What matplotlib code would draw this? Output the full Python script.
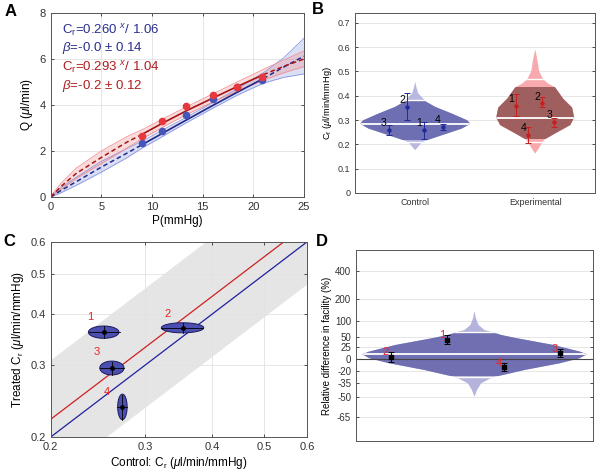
import numpy as np
import matplotlib
matplotlib.use("Agg")
import matplotlib.pyplot as plt
from matplotlib.patches import Polygon, Rectangle
from matplotlib.ticker import NullLocator

plt.rcParams["font.family"] = ["Liberation Sans", "DejaVu Sans"]
plt.rcParams["mathtext.fontset"] = "custom"
plt.rcParams["mathtext.rm"] = "Liberation Sans"
plt.rcParams["mathtext.it"] = "Liberation Sans:italic"

# ---- A: 流量-压力 ----
P_meas = [9, 11, 13.4, 16, 18.4, 20.9]
Q_blue = [2.33, 2.88, 3.57, 4.25, 4.77, 5.09]
Q_red = [2.65, 3.3, 3.97, 4.42, 4.8, 5.2]

P_fit = [0, 1, 2.5, 5, 7.5, 9, 11, 13.4, 16, 18.4, 21, 23, 25]
fit_blue = [0, 0.28, 0.66, 1.3, 1.9, 2.27, 2.76, 3.35, 3.98, 4.55, 5.15, 5.65, 6.12]
fit_red = [0, 0.45, 1.02, 1.72, 2.38, 2.72, 3.2, 3.75, 4.3, 4.8, 5.32, 5.68, 6.0]
blue_hi = [0.05, 0.4, 0.85, 1.55, 2.1, 2.42, 2.9, 3.47, 4.1, 4.7, 5.4, 6.05, 6.9]
blue_lo = [0, 0.18, 0.5, 1.08, 1.7, 2.12, 2.62, 3.23, 3.86, 4.42, 4.95, 5.2, 5.35]
red_hi = [0.05, 0.58, 1.25, 2.0, 2.62, 2.92, 3.38, 3.92, 4.48, 5.0, 5.55, 5.95, 6.35]
red_lo = [0, 0.32, 0.8, 1.45, 2.12, 2.52, 3.02, 3.58, 4.13, 4.6, 5.08, 5.4, 5.67]

# ---- B: 小提琴图 ----
groups = ["Control", "Experimental"]
ctrl_lvl = [0.176, 0.19, 0.205, 0.213, 0.22, 0.238, 0.265, 0.285, 0.299, 0.326, 0.354, 0.375, 0.384, 0.41, 0.435, 0.457]
ctrl_hw = [0, .025, .05, .075, .117, .225, .39, .46, .433, .308, .167, .092, .075, .025, .01, 0]
exp_lvl = [0.162, 0.18, 0.2, 0.212, 0.219, 0.245, 0.279, 0.31, 0.351, 0.388, 0.434, 0.45, 0.467, 0.5, 0.55, 0.591]
exp_hw = [0, .025, .05, .067, .075, .167, .292, .325, .308, .233, .167, .108, .067, .033, .017, 0]
ctrl_med, exp_med = 0.284, 0.31
ctrl_white = [0.211, 0.384]
exp_white = [0.211, 0.467]
ctrl_dark = [0.216, 0.378]
exp_dark = [0.22, 0.434]

ctrl_x = [1.07, 0.93, 0.778, 1.228]
ctrl_y = [0.258, 0.354, 0.261, 0.272]
ctrl_top = [0.29, 0.412, 0.279, 0.283]
ctrl_bot = [0.22, 0.302, 0.237, 0.261]
exp_x = [1.839, 2.056, 2.16, 1.944]
exp_y = [0.357, 0.368, 0.292, 0.237]
exp_top = [0.406, 0.393, 0.309, 0.272]
exp_bot = [0.317, 0.353, 0.270, 0.206]
ids = ["1", "2", "3", "4"]

# ---- C: 对照 vs 处理 ----
c_ctrl = [0.251, 0.352, 0.260, 0.272]
c_treat = [0.361, 0.370, 0.295, 0.237]
c_ctrl_lo = [0.236, 0.321, 0.247, 0.266]
c_ctrl_hi = [0.269, 0.385, 0.274, 0.277]
c_treat_lo = [0.349, 0.360, 0.283, 0.220]
c_treat_hi = [0.374, 0.381, 0.306, 0.254]
c_lab_xy = [(0.237, 0.393), (0.330, 0.400), (0.244, 0.322), (0.254, 0.257)]
red_ratio = 1.105
band_factor = 1.4

# ---- D: 相对差异 ----
d_lvl = [-49.6, -43, -35.6, -28, -25, -17.8, -7.1, 1.8, 9.6, 14.9, 30, 47, 56, 64, 71, 87.4, 112, 142.3]
d_hw = [0, .011, .028, .077, .12, .211, .359, .443, .474, .446, .333, .179, .113, .077, .042, .017, .006, 0]
d_med = 9.6
d_white = [-28, 64]
d_dark = [-27, 62]
d_x = [0.884, 0.648, 1.361, 1.123]
d_y = [43, 4.9, 12.9, -13.6]
d_top = [56, 15, 20.7, -6.6]
d_bot = [32, -4.3, 4.9, -19.3]
d_ticks = [-65, -50, -35, -20, 0, 25, 50, 100, 200, 400]

blue_dk = "#1f2a8a"
red_dk = "#a51515"
spine_c = "#555555"
grid_c = "#e2e2e2"


def style(ax, fs):
    for s in ax.spines.values():
        s.set_color(spine_c)
        s.set_linewidth(0.7)
    ax.tick_params(direction="in", top=True, right=True, length=2.5, width=0.6,
                   labelsize=fs, colors="#333333")
    ax.grid(True, color=grid_c, lw=0.6)
    ax.set_axisbelow(True)


def violin(ax, xc, lvl, hw, light, dark, dark_rng, whites, med):
    lvl = np.array(lvl)
    hw = np.array(hw)
    xs = np.concatenate([xc - hw, (xc + hw)[::-1]])
    ys = np.concatenate([lvl, lvl[::-1]])
    poly = Polygon(np.column_stack([xs, ys]), closed=True, fc=light, ec="none", zorder=1)
    ax.add_patch(poly)
    inner = Polygon(np.column_stack([xs, ys]), closed=True, fc=dark, ec="none", zorder=1.5)
    ax.add_patch(inner)
    inner.set_clip_path(Rectangle((xc - 1, dark_rng[0]), 2, dark_rng[1] - dark_rng[0],
                                  transform=ax.transData))
    for w in whites + [med]:
        ln, = ax.plot([xc - 1, xc + 1], [w, w], color="white", lw=1.3 if w == med else 1.0, zorder=2)
        ln.set_clip_path(poly)


fig = plt.figure(figsize=(6, 4.73), dpi=100)

# ===== A =====
axA = fig.add_axes([0.0845, 0.5835, 0.422, 0.389])
style(axA, 8)
P_fit = np.array(P_fit)
axA.fill_between(P_fit, blue_lo, blue_hi, color="#8a96e0", alpha=0.3, lw=0)
axA.fill_between(P_fit, red_lo, red_hi, color="#f08a8a", alpha=0.3, lw=0)
for arr, c in [(blue_lo, "#8a96e0"), (blue_hi, "#8a96e0"), (red_lo, "#f09090"), (red_hi, "#f09090")]:
    axA.plot(P_fit, arr, color=c, lw=0.6)
inside = (P_fit >= 9) & (P_fit <= 21)
for fit, c in [(fit_blue, blue_dk), (fit_red, red_dk)]:
    fit = np.array(fit)
    axA.plot(P_fit[P_fit <= 9], fit[P_fit <= 9], color=c, ls=(0, (3, 2)), lw=1.1)
    axA.plot(P_fit[P_fit >= 21], fit[P_fit >= 21], color=c, ls=(0, (3, 2)), lw=1.1)
    axA.plot(P_fit[inside], fit[inside], color=c, lw=1.2)
axA.plot(P_meas, Q_blue, "o", color="#4656b8", ms=4.5, zorder=4)
axA.plot(P_meas, Q_red, "o", color="#e8383d", ms=4.5, zorder=4)
axA.set_xlim(0, 25)
axA.set_ylim(0, 8)
axA.set_xticks([0, 5, 10, 15, 20, 25])
axA.set_yticks([0, 2, 4, 6, 8])
axA.set_xlabel("P(mmHg)", fontsize=8.5, labelpad=2)
axA.set_ylabel(r"Q ($\mu$l/min)", fontsize=8.5, labelpad=3)
tA = dict(transform=axA.transAxes, fontsize=9.5, va="center", ha="left")
axA.text(0.045, 0.905, r"C$_\mathrm{r}$=0.260 $^x$/ 1.06", color="#2a2f8f", **tA)
axA.text(0.045, 0.81, r"$\beta$=-0.0 $\pm$ 0.14", color="#2a2f8f", **tA)
axA.text(0.045, 0.70, r"C$_\mathrm{r}$=0.293 $^x$/ 1.04", color="#b01c1c", **tA)
axA.text(0.045, 0.605, r"$\beta$=-0.2 $\pm$ 0.12", color="#b01c1c", **tA)

# ===== B =====
axB = fig.add_axes([0.592, 0.592, 0.4, 0.3805])
style(axB, 6.5)
axB.grid(False)
axB.yaxis.grid(True, color=grid_c, lw=0.6)
violin(axB, 1, ctrl_lvl, ctrl_hw, "#b9b9e0", "#6e6eb2", ctrl_dark, ctrl_white, ctrl_med)
violin(axB, 2, exp_lvl, exp_hw, "#f7a9ad", "#a05f5f", exp_dark, exp_white, exp_med)
yerr_c = [np.array(ctrl_y) - np.array(ctrl_bot), np.array(ctrl_top) - np.array(ctrl_y)]
yerr_e = [np.array(exp_y) - np.array(exp_bot), np.array(exp_top) - np.array(exp_y)]
axB.errorbar(ctrl_x, ctrl_y, yerr=yerr_c, fmt="o", color="#1f2a9a", ms=2.2, capsize=2,
             elinewidth=0.7, capthick=0.7, zorder=5)
axB.errorbar(exp_x, exp_y, yerr=yerr_e, fmt="o", color="#c81e1e", ms=2.2, capsize=2,
             elinewidth=0.7, capthick=0.7, zorder=5)
for i in range(4):
    axB.text(ctrl_x[i] - 0.015, ctrl_y[i] + 0.008, ids[i], fontsize=7.5, ha="right", va="bottom", zorder=6)
    axB.text(exp_x[i] - 0.015, exp_y[i] + 0.008, ids[i], fontsize=7.5, ha="right", va="bottom", zorder=6)
axB.set_xlim(0.5, 2.5)
axB.set_ylim(0, 0.74)
axB.set_yticks(np.arange(0, 0.71, 0.1))
axB.set_yticklabels(["0", "0.1", "0.2", "0.3", "0.4", "0.5", "0.6", "0.7"])
axB.set_xticks([1, 2])
axB.set_xticklabels(groups)
axB.tick_params(axis="x", length=0)
axB.set_ylabel(r"C$_\mathrm{r}$ ($\mu$l/min/mmHg)", fontsize=6.7, labelpad=3)

# ===== C =====
axC = fig.add_axes([0.0845, 0.0761, 0.427, 0.4123])
style(axC, 8)
axC.set_xscale("log")
axC.set_yscale("log")
xb = np.array([0.2, 0.6])
axC.fill_between(xb, xb * red_ratio / band_factor, xb * red_ratio * band_factor,
                 color="#dadada", alpha=0.7, lw=0, zorder=0.5)
axC.plot(xb, xb, color="#2020a0", lw=0.9, zorder=2)
axC.plot(xb, xb * red_ratio, color="#d02020", lw=0.9, zorder=2)
t = np.linspace(0, 2 * np.pi, 100)
for i in range(4):
    a = (np.log(c_ctrl_hi[i]) - np.log(c_ctrl_lo[i])) / 2
    b = (np.log(c_treat_hi[i]) - np.log(c_treat_lo[i])) / 2
    ex = np.exp(np.log(c_ctrl[i]) + a * np.cos(t))
    ey = np.exp(np.log(c_treat[i]) + b * np.sin(t))
    axC.fill(ex, ey, fc="#4b4fb0", ec="#1a1a60", lw=0.7, zorder=3)
    axC.plot([c_ctrl_lo[i], c_ctrl_hi[i]], [c_treat[i]] * 2, color="black", lw=0.6, zorder=4)
    axC.plot([c_ctrl[i]] * 2, [c_treat_lo[i], c_treat_hi[i]], color="black", lw=0.6, zorder=4)
    axC.plot(c_ctrl[i], c_treat[i], "o", color="black", ms=2.5, zorder=5)
    axC.text(c_lab_xy[i][0], c_lab_xy[i][1], ids[i], color="#ee2222", fontsize=8,
             ha="center", va="center", zorder=6)
axC.set_xlim(0.2, 0.6)
axC.set_ylim(0.2, 0.6)
cticks = [0.2, 0.3, 0.4, 0.5, 0.6]
axC.set_xticks(cticks)
axC.set_yticks(cticks)
axC.set_xticklabels([str(v) for v in cticks])
axC.set_yticklabels([str(v) for v in cticks])
axC.xaxis.set_minor_locator(NullLocator())
axC.yaxis.set_minor_locator(NullLocator())
axC.set_xlabel(r"Control: C$_\mathrm{r}$ ($\mu$l/min/mmHg)", fontsize=8.5, labelpad=2)
axC.set_ylabel(r"Treated C$_\mathrm{r}$ ($\mu$l/min/mmHg)", fontsize=8.5, labelpad=3)

# ===== D =====
axD = fig.add_axes([0.5933, 0.0677, 0.395, 0.4038])
style(axD, 7)
axD.grid(False)
axD.set_yscale("function", functions=(lambda y: np.log1p(np.asarray(y) / 100.0),
                                      lambda v: 100.0 * np.expm1(v)))
axD.set_xlim(0.5, 1.5)
axD.set_ylim(-77.6, 640)
for tk in d_ticks:
    axD.axhline(tk, color=grid_c, lw=0.6, zorder=0)
violin(axD, 1, d_lvl, d_hw, "#b3b3db", "#6f6fb1", d_dark, d_white, d_med)
axD.axhline(0, color="#444444", lw=0.8, zorder=3)
yerr_d = [np.array(d_y) - np.array(d_bot), np.array(d_top) - np.array(d_y)]
axD.errorbar(d_x, d_y, yerr=yerr_d, fmt="s", color="black", ms=3, capsize=2,
             elinewidth=0.7, capthick=0.7, zorder=5)
for i in range(4):
    axD.text(d_x[i] - 0.008, d_top[i], ids[i], color="#ee2222", fontsize=8,
             ha="right", va="center", zorder=6)
axD.set_yticks(d_ticks)
axD.set_yticklabels([str(v) for v in d_ticks])
axD.yaxis.set_minor_locator(NullLocator())
axD.set_xticks([])
axD.set_ylabel("Relative difference in facility (%)", fontsize=7, labelpad=2)

# 面板字母
for lab, x, y in [("A", 0.008, 0.975), ("B", 0.52, 0.98), ("C", 0.005, 0.49), ("D", 0.527, 0.49)]:
    fig.text(x, y, lab, fontsize=12, fontweight="bold", va="center", ha="left")

fig.savefig("out.png", dpi=100)
